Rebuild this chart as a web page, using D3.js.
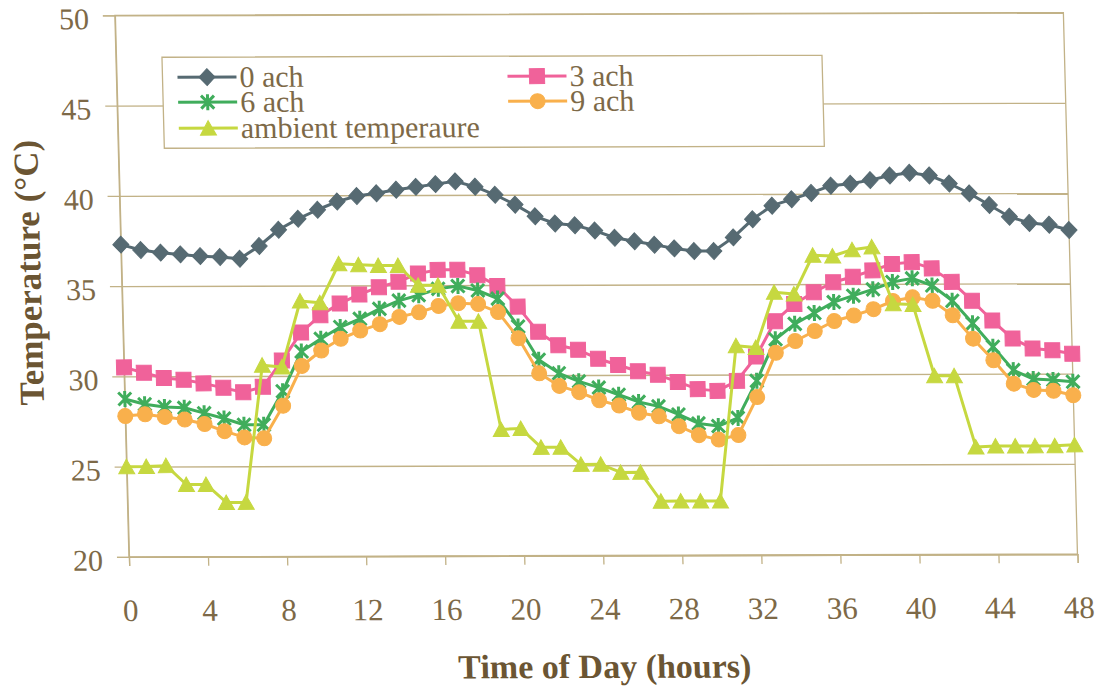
<!DOCTYPE html>
<html>
<head>
<meta charset="utf-8">
<script src="https://cdn.jsdelivr.net/npm/d3@7"></script>
<style>
  html, body { margin: 0; padding: 0; background: #fff; }
  svg { display: block; }
</style>
</head>
<body>
<svg id="chart" width="1102" height="688"></svg>
<script>
// Hourly temperatures over two days for several ventilation rates
const hours = [0,1,2,3,4,5,6,7,8,9,10,11,12,13,14,15,16,17,18,19,20,21,22,23,24,
               25,26,27,28,29,30,31,32,33,34,35,36,37,38,39,40,41,42,43,44,45,46,47,48];

const ach0 = [37.3, 37.0, 36.85, 36.75, 36.65, 36.6, 36.5, 37.2, 38.1, 38.7, 39.2, 39.65, 39.95,
              40.1, 40.3, 40.45, 40.6, 40.75, 40.45, 40.0, 39.45, 38.8, 38.4, 38.3, 38.0,
              37.6, 37.4, 37.2, 37.0, 36.85, 36.85, 37.6, 38.6, 39.35, 39.7, 40.05, 40.45,
              40.55, 40.75, 41.0, 41.15, 41.0, 40.55, 40.0, 39.35, 38.7, 38.35, 38.25, 37.95];

const ach3 = [30.5, 30.2, 29.9, 29.8, 29.6, 29.35, 29.1, 29.4, 30.85, 32.4, 33.35, 34.0, 34.5,
              34.9, 35.2, 35.65, 35.85, 35.85, 35.55, 34.95, 33.8, 32.4, 31.65, 31.4, 30.9,
              30.55, 30.2, 30.0, 29.6, 29.2, 29.1, 29.65, 31.0, 32.95, 33.9, 34.55, 35.1,
              35.4, 35.75, 36.1, 36.2, 35.85, 35.1, 34.05, 32.95, 31.95, 31.4, 31.3, 31.1];

const ach6 = [28.75, 28.45, 28.3, 28.25, 27.95, 27.65, 27.3, 27.3, 29.15, 31.35, 32.05, 32.7, 33.15,
              33.7, 34.15, 34.45, 34.8, 34.95, 34.7, 34.25, 32.7, 30.85, 30.1, 29.65, 29.3,
              28.9, 28.5, 28.25, 27.8, 27.3, 27.15, 27.6, 29.65, 31.95, 32.8, 33.4, 34.0,
              34.35, 34.7, 35.1, 35.3, 34.9, 34.05, 32.8, 31.5, 30.2, 29.7, 29.65, 29.55];

const ach9 = [27.8, 27.9, 27.75, 27.6, 27.35, 26.95, 26.6, 26.55, 28.35, 30.55, 31.4, 32.05, 32.5,
              32.85, 33.25, 33.5, 33.85, 34.0, 33.95, 33.5, 32.05, 30.1, 29.4, 29.05, 28.6,
              28.3, 27.9, 27.7, 27.15, 26.65, 26.4, 26.65, 28.75, 31.2, 31.85, 32.4, 32.95,
              33.25, 33.6, 34.05, 34.25, 34.05, 33.25, 31.95, 30.75, 29.45, 29.1, 29.05, 28.8];

const ambient = [25.0, 25.0, 25.05, 24.0, 24.0, 23.0, 23.0, 30.6, 30.5, 34.15, 34.05, 36.2, 36.15,
                 36.1, 36.1, 35.0, 35.0, 33.0, 33.0, 27.0, 27.05, 26.0, 26.0, 25.05, 25.05,
                 24.6, 24.6, 23.0, 23.0, 23.0, 23.0, 31.6, 31.5, 34.55, 34.45, 36.6, 36.55,
                 36.9, 37.05, 33.9, 33.85, 29.9, 29.9, 25.95, 26.0, 26.0, 26.0, 26.0, 26.05];

const seriesNames = ["0 ach", "3 ach", "6 ach", "9 ach", "ambient temperaure"];
const xTicks = [0, 4, 8, 12, 16, 20, 24, 28, 32, 36, 40, 44, 48];
const yTicks = [20, 25, 30, 35, 40, 45, 50];
const xTitle = "Time of Day (hours)";
const yTitle = "Temperature (°C)";

// ---- layout & styles ----
const plot = { left: 122, right: 1070.5, top: 14, bottom: 555.5 };
const gridColor = "#c2b287";
const tickText = "#7d6947";
const titleText = "#6b5533";
const font = "'Liberation Serif', 'Times New Roman', serif";

const x = d3.scaleLinear().domain([0, 48]).range([plot.left, plot.right]);
const y = d3.scaleLinear().domain([20, 50]).range([plot.bottom, plot.top]);

const svg = d3.select("#chart");
svg.append("rect").attr("width", 1102).attr("height", 688).attr("fill", "#fff");

// slight page skew of the printed figure
const cx = 590, cy = 288;
const g = svg.append("g")
  .attr("transform", `translate(${cx},${cy}) matrix(1,-0.003,0.026,1,0,0) translate(${-cx},${-cy})`);

// horizontal gridlines
g.append("g")
  .attr("transform", `translate(${plot.left},0)`)
  .call(d3.axisLeft(y).tickValues(yTicks).tickSize(-(plot.right - plot.left)).tickFormat(""))
  .call(a => a.select(".domain").remove())
  .call(a => a.selectAll("line").attr("stroke", gridColor).attr("stroke-width", 1.3));

// plot frame
g.append("rect")
  .attr("x", plot.left).attr("y", plot.top)
  .attr("width", plot.right - plot.left).attr("height", plot.bottom - plot.top)
  .attr("fill", "none").attr("stroke", gridColor).attr("stroke-width", 1.3);

// y axis
g.append("g")
  .attr("transform", `translate(${plot.left},0)`)
  .call(d3.axisLeft(y).tickValues(yTicks).tickSize(12).tickPadding(14).tickFormat(d3.format("d")))
  .call(a => a.select(".domain").attr("stroke", gridColor).attr("stroke-width", 1.3))
  .call(a => a.selectAll("line").attr("stroke", gridColor).attr("stroke-width", 1.3))
  .call(a => a.selectAll("text").attr("fill", tickText).attr("dy", "0.44em")
    .style("font-family", font).style("font-size", "30px"));

// x axis
g.append("g")
  .attr("transform", `translate(0,${plot.bottom})`)
  .call(d3.axisBottom(x).tickValues(xTicks).tickSize(9).tickPadding(33).tickFormat(d3.format("d")))
  .call(a => a.select(".domain").attr("stroke", gridColor).attr("stroke-width", 1.3))
  .call(a => a.selectAll("line").attr("stroke", gridColor).attr("stroke-width", 1.3))
  .call(a => a.selectAll("text").attr("fill", tickText).style("font-family", font).style("font-size", "31px"));

// axis titles
g.append("text")
  .attr("x", 595).attr("y", 678)
  .attr("text-anchor", "middle")
  .attr("fill", titleText)
  .style("font-family", font).style("font-size", "34px").style("font-weight", "bold")
  .text(xTitle);

g.append("text")
  .attr("transform", "translate(41,271) rotate(-90)")
  .attr("text-anchor", "middle")
  .attr("fill", titleText)
  .style("font-family", font).style("font-size", "35px").style("font-weight", "bold")
  .text(yTitle);

// ---- marker shapes ----
const markers = {
  diamond: { d: "M0,-8.5L8,0L0,8.5L-8,0Z", fill: true },
  square: { d: "M-7.5,-7.5h15v15h-15Z", fill: true },
  star: { d: "M-6.5,-6.5L6.5,6.5M-6.5,6.5L6.5,-6.5M0,-8L0,8", fill: false },
  circle: { d: "M7.5,0A7.5,7.5 0 1,1 -7.5,0A7.5,7.5 0 1,1 7.5,0Z", fill: true },
  triangle: { d: "M0,-7.5L8,7L-8,7Z", fill: true }
};

const series = [
  { name: seriesNames[0], values: ach0, color: "#566a72", marker: "diamond" },
  { name: seriesNames[1], values: ach3, color: "#f0629a", marker: "square" },
  { name: seriesNames[2], values: ach6, color: "#40ad5c", marker: "star" },
  { name: seriesNames[3], values: ach9, color: "#f9b04c", marker: "circle" },
  { name: seriesNames[4], values: ambient, color: "#c6d840", marker: "triangle" }
];

const line = d3.line().x((d, i) => x(hours[i])).y(d => y(d));

function drawMarker(sel, m, color) {
  const spec = markers[m];
  sel.attr("d", spec.d)
    .attr("fill", spec.fill ? color : "none")
    .attr("stroke", color)
    .attr("stroke-width", spec.fill ? 1 : 3);
}

series.forEach(s => {
  const sg = g.append("g");
  sg.append("path")
    .attr("d", line(s.values))
    .attr("fill", "none")
    .attr("stroke", s.color)
    .attr("stroke-width", 3)
    .attr("stroke-linejoin", "round");
  sg.selectAll("path.m")
    .data(s.values)
    .join("path")
    .attr("class", "m")
    .attr("transform", (d, i) => `translate(${x(hours[i])},${y(d)})`)
    .call(sel => drawMarker(sel, s.marker, s.color));
});

// ---- legend ----
const legend = g.append("g");
legend.append("rect")
  .attr("x", 168).attr("y", 56).attr("width", 660).attr("height", 91)
  .attr("fill", "#fff").attr("stroke", gridColor).attr("stroke-width", 1.3);

const legendPos = [
  { col: 0, row: 0 }, { col: 1, row: 0 }, { col: 0, row: 1 }, { col: 1, row: 1 }, { col: 0, row: 2 }
];
const colX = [183, 513];
const rowY = [76, 101, 127];

series.forEach((s, i) => {
  const p = legendPos[i];
  const lx = colX[p.col], ly = rowY[p.row];
  const item = legend.append("g").attr("transform", `translate(${lx},${ly})`);
  item.append("line").attr("x1", 0).attr("x2", 59).attr("y1", 0).attr("y2", 0)
    .attr("stroke", s.color).attr("stroke-width", 3);
  item.append("path").attr("transform", "translate(29.5,0)")
    .call(sel => drawMarker(sel, s.marker, s.color));
  item.append("text")
    .attr("x", 62).attr("y", 0).attr("dy", "0.33em")
    .attr("fill", tickText)
    .style("font-family", font).style("font-size", "30px")
    .text(s.name);
});
</script>
</body>
</html>
